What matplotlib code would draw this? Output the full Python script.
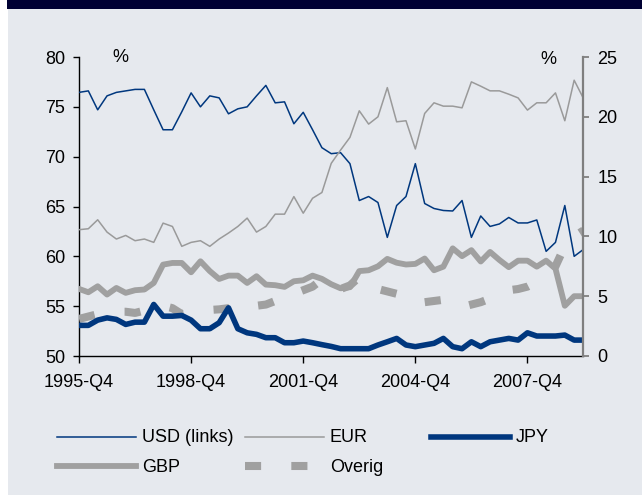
import matplotlib
matplotlib.use("Agg")
import matplotlib.pyplot as plt
from matplotlib.lines import Line2D
from matplotlib.patches import Rectangle

plt.rcParams['font.family'] = ['Liberation Sans', 'DejaVu Sans']

# shares in %, quarterly from 1995-Q4 to 2009-Q2
usd = [76.45, 76.6, 74.7, 76.1, 76.45, 76.6, 76.75, 76.75, 74.7, 72.7,
       72.7, 74.5, 76.4, 75.0, 76.1, 75.9, 74.3, 74.8, 75.0, 76.1,
       77.15, 75.4, 75.5, 73.3, 74.45, 72.7, 70.9, 70.3, 70.4, 69.3,
       65.6, 66.0, 65.4, 61.9, 65.1, 66.0, 69.3, 65.3, 64.8, 64.6,
       64.55, 65.6, 61.9, 64.05, 63.0, 63.25, 63.9, 63.35, 63.35, 63.65,
       60.5, 61.4, 65.1, 60.0, 60.7]
eur = [10.56, 10.64, 11.39, 10.36, 9.78, 10.08, 9.64, 9.78, 9.5, 11.11,
       10.83, 9.17, 9.5, 9.64, 9.17, 9.78, 10.28, 10.83, 11.53, 10.36,
       10.83, 11.86, 11.86, 13.33, 11.94, 13.19, 13.67, 16.11, 17.22, 18.28,
       20.5, 19.39, 20.0, 22.44, 19.58, 19.67, 17.31, 20.28, 21.17, 20.89,
       20.89, 20.75, 22.92, 22.56, 22.17, 22.17, 21.89, 21.58, 20.56, 21.17,
       21.17, 22.0, 19.67, 23.06, 21.53]
jpy = [2.56, 2.56, 3.0, 3.19, 3.06, 2.64, 2.83, 2.83, 4.31, 3.33,
       3.33, 3.39, 3.0, 2.28, 2.28, 2.78, 4.03, 2.28, 1.94, 1.81,
       1.53, 1.53, 1.11, 1.11, 1.25, 1.11, 0.95, 0.8, 0.61, 0.61,
       0.61, 0.61, 0.92, 1.19, 1.47, 0.92, 0.78, 0.92, 1.06, 1.47,
       0.78, 0.61, 1.19, 0.78, 1.19, 1.33, 1.47, 1.33, 1.94, 1.67,
       1.67, 1.67, 1.75, 1.33, 1.33]
gbp = [5.61, 5.33, 5.83, 5.14, 5.69, 5.28, 5.5, 5.56, 6.11, 7.64,
       7.78, 7.78, 7.0, 7.92, 7.1, 6.44, 6.72, 6.72, 6.11, 6.67,
       5.97, 5.92, 5.78, 6.25, 6.33, 6.72, 6.45, 6.0, 5.66, 5.75,
       7.1, 7.17, 7.5, 8.12, 7.8, 7.65, 7.7, 8.15, 7.17, 7.47,
       9.0, 8.35, 8.85, 7.9, 8.7, 8.03, 7.43, 7.97, 7.97, 7.47,
       7.97, 7.3, 4.2, 5.0, 5.0]
overig = [3.1, 3.3, 3.5, 3.6, 3.7, 3.7, 3.6, 3.8, 4.0, 4.2,
          4.0, 3.5, 3.7, 3.9, 3.85, 3.9, 4.0, 4.2, 4.5, 4.2,
          4.3, 4.6, 5.0, 5.2, 5.5, 5.8, 6.4, 6.2, 5.6, 5.9,
          6.6, 6.0, 5.6, 5.4, 5.2, 5.1, 4.6, 4.5, 4.6, 4.7,
          4.3, 4.1, 4.3, 4.5, 4.8, 5.2, 5.5, 5.6, 5.8, 6.2,
          6.6, 7.5, 9.2, 10.0, 10.5]

quarters = []
for yr in range(1995, 2010):
    for q in range(1, 5):
        quarters.append(f"{yr}-Q{q}")
quarters = quarters[3:3 + len(usd)]
x = list(range(len(usd)))
tick_pos = [0, 12, 24, 36, 48]

navy = '#00377e'
bg = '#e6e9ee'
W, H = 642, 495

fig = plt.figure(figsize=(W / 100, H / 100), dpi=100, facecolor='white')
fig.add_artist(Rectangle((8 / W, 0), 1, 1 - 9 / H, transform=fig.transFigure,
                         facecolor=bg, edgecolor='none', zorder=-10))
fig.add_artist(Rectangle((7 / W, 1 - 9 / H), 1, 9 / H, transform=fig.transFigure,
                         facecolor='#000033', edgecolor='none', zorder=-10))

ax = fig.add_axes([79 / W, 1 - 356 / H, (583.5 - 79) / W, (356 - 57) / H])
ax.patch.set_visible(False)
ax2 = ax.twinx()
ax2.patch.set_visible(False)

ax.plot(x, usd, color=navy, lw=1.1, zorder=3)
ax2.plot(x, eur, color='#9a9a9a', lw=1.1)
ax2.plot(x, gbp, color='#a0a0a0', lw=4.2)
ax2.plot(x, overig, color='#a0a0a0', lw=5.8, dashes=(2, 3.75))
ax2.plot(x, jpy, color=navy, lw=4.0)

ax.set_xlim(0, 54)
ax.set_ylim(50, 80)
ax2.set_ylim(0, 25)
ax.set_yticks(range(50, 81, 5))
ax2.set_yticks(range(0, 26, 5))
ax.set_xticks(tick_pos)
ax.set_xticklabels([quarters[i] for i in tick_pos])

for s in ['top', 'right']:
    ax.spines[s].set_visible(False)
for s in ['top', 'left', 'bottom']:
    ax2.spines[s].set_visible(False)
ax.spines['left'].set_linewidth(1.0)
ax.spines['bottom'].set_linewidth(1.0)
ax2.spines['right'].set_color('#7f7f7f')
ax2.spines['right'].set_linewidth(1.6)

ax.tick_params(axis='y', direction='out', length=4, width=1, labelsize=13, pad=6)
ax.tick_params(axis='x', direction='out', length=5, width=1, labelsize=13, pad=8)
ax2.tick_params(axis='y', direction='out', length=4, width=1.3, color='#7f7f7f',
                labelsize=13, pad=6)

fig.text(120 / W, 1 - 58 / H, '%', fontsize=13, ha='center', va='center')
fig.text(548 / W, 1 - 59 / H, '%', fontsize=13, ha='center', va='center')

# legend drawn by hand, fixed column layout
legend_items = [
    ('USD (links)', dict(color=navy, lw=1.1), 57, 437),
    ('EUR', dict(color='#9a9a9a', lw=1.1), 245, 437),
    ('JPY', dict(color=navy, lw=4.0), 431, 437),
    ('GBP', dict(color='#a0a0a0', lw=4.2), 57, 466),
    ('Overig', dict(color='#a0a0a0', lw=5.8, dashes=(2, 3.75)), 245, 466),
]
for label, style, x0, y0 in legend_items:
    fig.add_artist(Line2D([x0 / W, (x0 + 79) / W], [1 - y0 / H, 1 - y0 / H],
                          transform=fig.transFigure, **style))
    fig.text((x0 + 85) / W, 1 - (y0 + 1) / H, label, fontsize=13,
             ha='left', va='center')

fig.savefig('out.png', dpi=100, facecolor='white')
